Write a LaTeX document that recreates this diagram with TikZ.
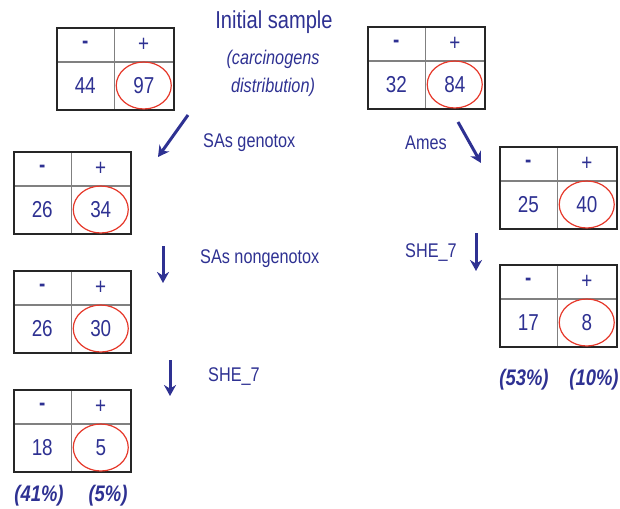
\documentclass[tikz,border=0pt]{standalone}
\usepackage{fontspec}
\setmainfont{Liberation Sans}[FakeStretch=0.82]
\usetikzlibrary{arrows.meta,shapes.geometric}
\definecolor{navy}{HTML}{2E3192}
\definecolor{ered}{HTML}{E6392B}
\newcommand\ctab[5]{%
  \draw[inl] (#2+58.5,#3) -- (#2+58.5,#3+82);
  \draw[inl] (#2,#3+35) -- (#2+117,#3+35);
  \node[tbox,anchor=north west] (#1) at (#2,#3) {};
  \node[hdr] (#1m) at (#2+29.25,#3+17.5) {\textbf{-}};
  \node[hdr] (#1p) at (#2+87.75,#3+17.5) {+};
  \node[val] (#1n) at (#2+29.25,#3+58.5) {#4};
  \node[val] (#1v) at (#2+87.75,#3+58.5) {#5};
  \node[oval] (#1o) at (#1v) {};
}
\begin{document}
\begin{tikzpicture}[x=1pt,y=-1pt,
  tbox/.style={draw=black!85,line width=2pt,minimum width=117pt,minimum height=82pt,inner sep=0pt},
  inl/.style={draw=black!50,line width=1.3pt},
  hdr/.style={text=navy,font=\fontsize{23}{26}\selectfont,inner sep=0pt},
  val/.style={text=navy,font=\fontsize{23}{27}\selectfont,inner sep=0pt},
  oval/.style={draw=ered,ellipse,line width=1.2pt,minimum width=55pt,minimum height=47pt,inner sep=0pt},
  lbl/.style={text=navy,font=\fontsize{19.8}{23}\selectfont,inner sep=0pt,anchor=west},
  pct/.style={text=navy,font=\fontsize{22.5}{26}\selectfont\bfseries\itshape,inner sep=0pt},
  arr/.style={draw=navy,line width=3pt,-{Stealth[length=11pt,width=12pt]}}]
\useasboundingbox (0,0) rectangle (620,508);
\ctab{T1}{56}{27}{44}{97}
\ctab{T2}{367}{26}{32}{84}
\ctab{T3}{13}{151}{26}{34}
\ctab{T4}{499}{146}{25}{40}
\ctab{T5}{13}{270}{26}{30}
\ctab{T6}{13}{389}{18}{5}
\ctab{T7}{499}{264}{17}{8}
\node[text=navy,font=\fontsize{24.5}{28}\selectfont,inner sep=0pt] (title) at (274,22) {Initial sample};
\node[text=navy,font=\fontsize{19.8}{23}\selectfont\itshape,inner sep=0pt] (sub1) at (273,59) {(carcinogens};
\node[text=navy,font=\fontsize{19.8}{23}\selectfont\itshape,inner sep=0pt] (sub2) at (273,87) {distribution)};
\coordinate (a1s) at (188,115); \coordinate (a1e) at (158,157);
\coordinate (a2s) at (458,122); \coordinate (a2e) at (481,163);
\coordinate (a3s) at (163,246); \coordinate (a3e) at (163,283);
\coordinate (a4s) at (170,360); \coordinate (a4e) at (170,396);
\coordinate (a5s) at (476,233); \coordinate (a5e) at (476,271);
\draw[arr] (a1s) -- (a1e);
\draw[arr] (a2s) -- (a2e);
\draw[arr] (a3s) -- (a3e);
\draw[arr] (a4s) -- (a4e);
\draw[arr] (a5s) -- (a5e);
\node[lbl] (l1) at (203,143) {SAs genotox};
\node[lbl] (l2) at (405,143) {Ames};
\node[lbl] (l3) at (200,259) {SAs nongenotox};
\node[lbl] (l4) at (208,377) {SHE\_7};
\node[lbl] (l5) at (405,253) {SHE\_7};
\node[pct] (p1) at (39,496) {(41\%)};
\node[pct] (p2) at (108,496) {(5\%)};
\node[pct] (p3) at (524,380) {(53\%)};
\node[pct] (p4) at (594,380) {(10\%)};
\end{tikzpicture}
\end{document}
